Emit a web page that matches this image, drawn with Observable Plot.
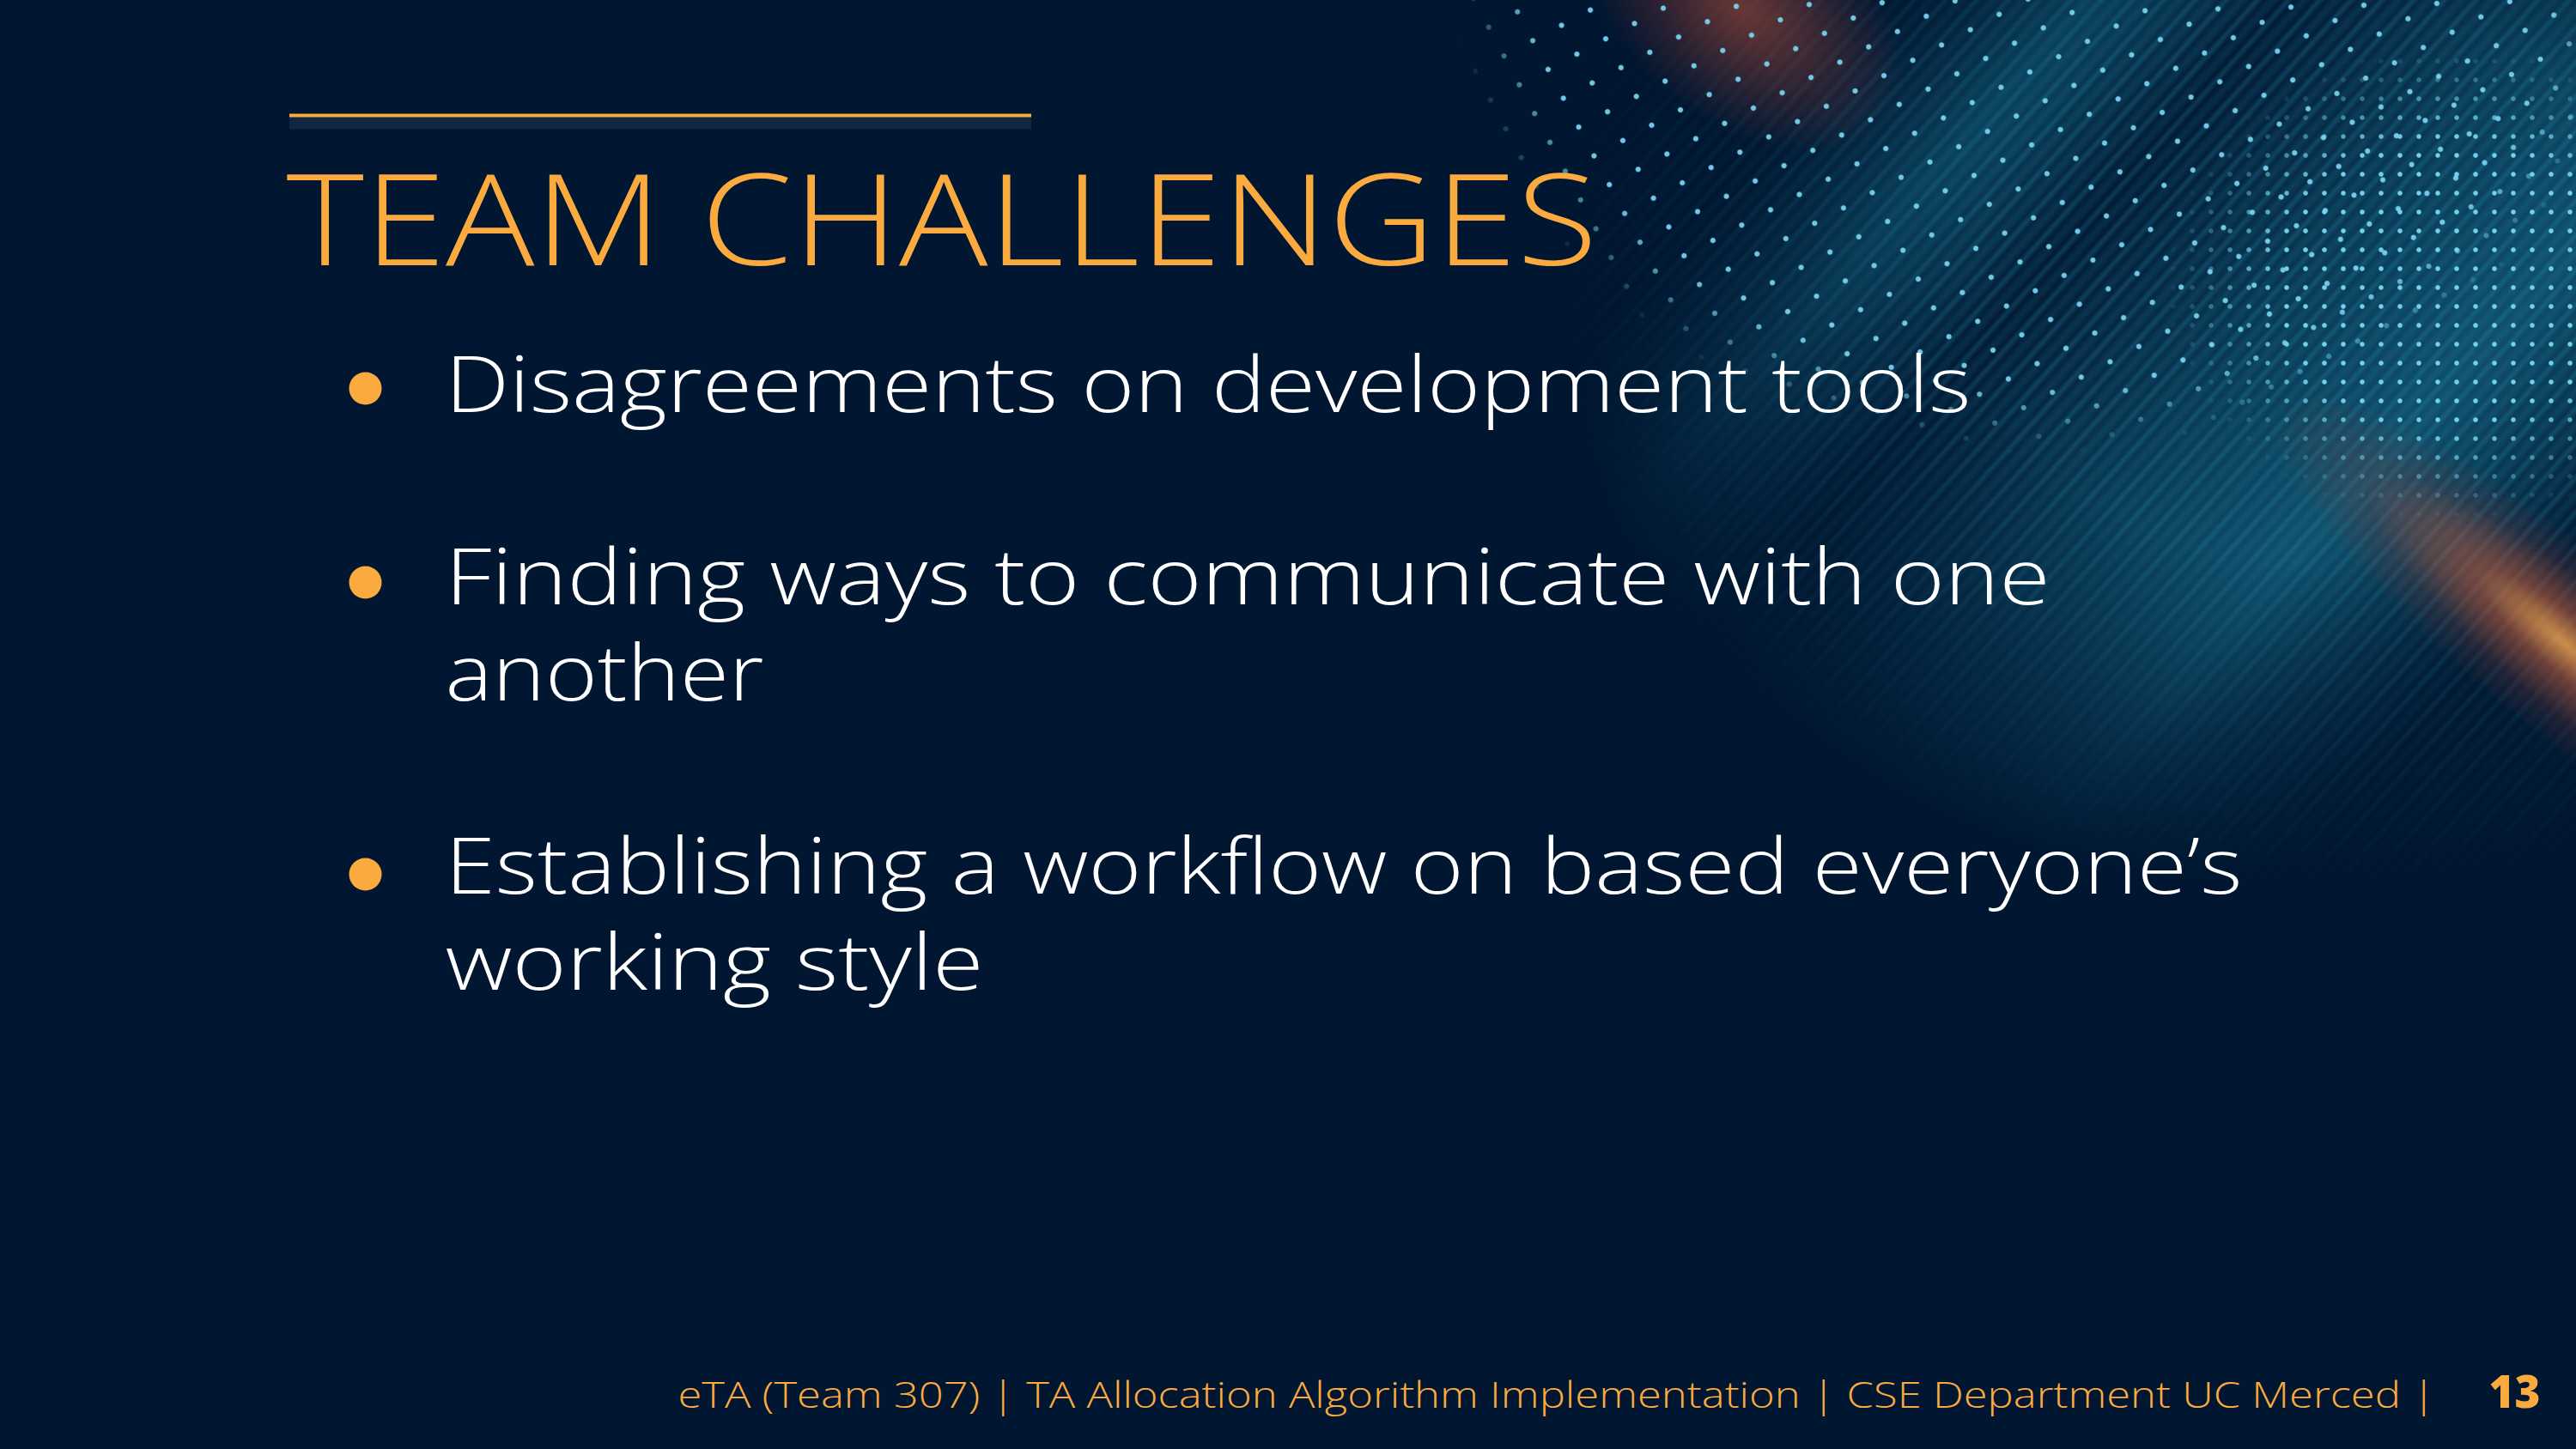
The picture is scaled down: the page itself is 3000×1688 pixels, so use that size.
<!DOCTYPE html>
<html><head><meta charset="utf-8">
<script src="https://cdn.jsdelivr.net/npm/d3@7"></script>
<script src="https://cdn.jsdelivr.net/npm/@observablehq/plot@0.6"></script>
<style>
html,body{margin:0;padding:0;background:#011630;width:3000px;height:1688px;overflow:hidden}
#slide{position:relative;width:3000px;height:1688px;overflow:hidden;background:#011630}
.deco{position:absolute;pointer-events:none}
#streaks{left:1750px;top:0;width:1250px;height:1150px;
 background:
  repeating-linear-gradient(132deg, rgba(40,150,180,0) 0px, rgba(50,165,195,0.24) 5px, rgba(40,150,180,0) 11px, rgba(60,175,205,0.13) 19px, rgba(40,150,180,0) 27px),
  linear-gradient(132deg, rgba(10,90,120,0) 20%, rgba(20,115,145,0.5) 30%, rgba(10,90,120,0.05) 40%, rgba(20,110,140,0.35) 52%, rgba(25,125,155,0.55) 66%, rgba(10,90,120,0.05) 80%);
 -webkit-mask-image:radial-gradient(ellipse 900px 720px at 950px 330px,#000 0 45%,transparent 100%);
 mask-image:radial-gradient(ellipse 900px 720px at 950px 330px,#000 0 45%,transparent 100%);}
#glow1{left:1820px;top:-120px;width:420px;height:260px;transform:rotate(38deg);
 background:radial-gradient(ellipse at center, rgba(190,80,55,0.55) 0%, rgba(150,60,50,0.25) 45%, rgba(1,22,48,0) 72%);}
#glow2{left:2600px;top:560px;width:560px;height:200px;transform:rotate(40deg);
 background:radial-gradient(ellipse at 75% 50%, rgba(255,170,80,0.8) 0%, rgba(220,100,60,0.5) 22%, rgba(150,60,50,0.22) 50%, rgba(1,22,48,0) 75%);}
#dotsWrap1{left:1700px;top:-40px;width:1300px;height:600px;overflow:hidden;
 -webkit-mask-image:radial-gradient(ellipse 690px 570px at 680px 0px,#000 0 86%,transparent 100%);
 mask-image:radial-gradient(ellipse 690px 570px at 680px 0px,#000 0 86%,transparent 100%);}
#dots1{position:absolute;left:-300px;top:-400px;width:1900px;height:1400px;transform:rotate(-28deg);
 background-image:radial-gradient(circle, rgba(120,210,240,0.95) 0 2.6px, rgba(120,210,240,0) 3.6px);
 background-size:38px 38px;}
#dots2{left:2520px;top:60px;width:480px;height:560px;
 background-image:radial-gradient(circle, rgba(120,215,245,0.95) 0 2.3px, rgba(120,215,245,0) 3.2px);
 background-size:22px 22px;
 -webkit-mask-image:radial-gradient(ellipse 330px 280px at 330px 270px,#000 0 60%,transparent 100%);
 mask-image:radial-gradient(ellipse 330px 280px at 330px 270px,#000 0 60%,transparent 100%);}
#chart{position:absolute;left:0;top:0}
</style></head><body>
<div id="slide">
 <div class="deco" id="streaks"></div>
 <div class="deco" id="glow1"></div>
 <div class="deco" id="glow2"></div>
 <div class="deco" id="dotsWrap1"><div id="dots1"></div></div>
 <div class="deco" id="dots2"></div>
 <div id="chart"></div>
</div>
<script>
// ---- content ----
const titleText = ["TEAM CHALLENGES"];
const bulletItems = [
  "Disagreements on development tools",
  "Finding ways to communicate with one another",
  "Establishing a workflow on based everyone’s working style"
];
const bulletLines = [
  ["Disagreements on development tools"],
  ["Finding ways to communicate with one", "another"],
  ["Establishing a workflow on based everyone’s", "working style"]
];
const footerText = ["eTA (Team 307) | TA Allocation Algorithm Implementation | CSE Department UC Merced |"];
const pageNumber = ["13"];

// ---- layout (pixels on the 3000x1688 slide) ----
const ORANGE = "#fbaa3f";
const FONT = "'Open Sans', 'DejaVu Sans', sans-serif";
const L = {
  ruleY: 134, ruleX1: 337, ruleX2: 1201,
  titleX: 333, titleBase: 308, titleRight: 1860, titleSize: 147,
  bulletX: 425, bulletY: [452, 678, 1018], bulletR: 19,
  textX: 518, firstBase: [479, 703, 1040], lineGap: 112, textSize: 90,
  lineRights: [2295, 2387, 889, 2611, 1145],
  footerX: 789, footerRight: 2836, footerBase: 1639, footerSize: 43,
  pageX: 2898, pageRight: 2958, pageSize: 53
};

const rows = bulletLines.flatMap((lines, i) =>
  lines.map((t, j) => ({text: t, item: i, y: L.firstBase[i] + j * L.lineGap})));
rows.forEach((r, k) => r.right = L.lineRights[k]);

const plot = Plot.plot({
  width: 3000, height: 1688,
  margin: 0, marginTop: 0, marginRight: 0, marginBottom: 0, marginLeft: 0,
  x: {type: "identity", axis: null},
  y: {type: "identity", axis: null},
  style: {background: "transparent", overflow: "visible"},
  marks: [
    Plot.ruleY([L.ruleY + 9], {x1: L.ruleX1, x2: L.ruleX2, stroke: "rgba(140,160,190,0.12)", strokeWidth: 14}),
    Plot.ruleY([L.ruleY], {x1: L.ruleX1, x2: L.ruleX2, stroke: ORANGE, strokeWidth: 4}),
    Plot.text(titleText, {x: () => L.titleX, y: () => L.titleBase, text: d => d, textAnchor: "start",
      lineAnchor: "bottom", fill: ORANGE, fontSize: L.titleSize, fontWeight: 300, fontFamily: FONT}),
    Plot.dot(bulletItems, {x: () => L.bulletX, y: (d, i) => L.bulletY[i], r: L.bulletR, fill: ORANGE, stroke: null}),
    Plot.text(rows, {x: () => L.textX, y: "y", text: "text", textAnchor: "start", lineAnchor: "bottom",
      fill: "#ffffff", fontSize: L.textSize, fontWeight: 300, fontFamily: FONT}),
    Plot.text(footerText, {x: () => L.footerX, y: () => L.footerBase, text: d => d, textAnchor: "start",
      lineAnchor: "bottom", fill: ORANGE, fontSize: L.footerSize, fontWeight: 300, fontFamily: FONT}),
    Plot.text(pageNumber, {x: () => L.pageX, y: () => L.footerBase, text: d => d, textAnchor: "start",
      lineAnchor: "bottom", fill: ORANGE, fontSize: L.pageSize, fontWeight: 800, fontFamily: FONT})
  ]
});
document.getElementById("chart").appendChild(plot);

// stretch texts to the widths of the original slide typeface
const targets = new Map();
targets.set(titleText[0], L.titleRight - L.titleX);
rows.forEach(r => targets.set(r.text, r.right - L.textX));
targets.set(footerText[0], L.footerRight - L.footerX);
targets.set(pageNumber[0], L.pageRight - L.pageX);
function fit() {
  d3.select(plot).selectAll("text").each(function () {
    const w = targets.get(this.textContent);
    if (w) { this.setAttribute("textLength", w); this.setAttribute("lengthAdjust", "spacingAndGlyphs"); }
  });
}
fit();
if (document.fonts && document.fonts.ready) document.fonts.ready.then(fit);
</script>
</body></html>
